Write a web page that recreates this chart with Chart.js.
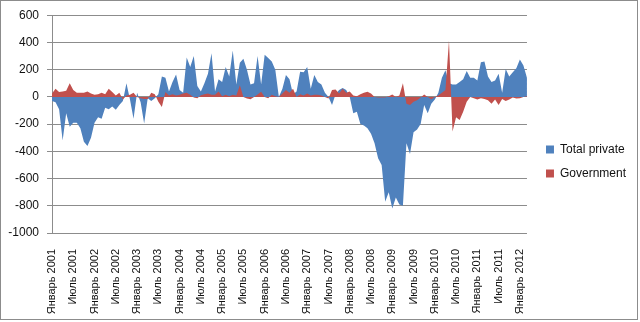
<!DOCTYPE html>
<html>
<head>
<meta charset="utf-8">
<script src="https://cdn.jsdelivr.net/npm/chart.js@4"></script>
<style>
  html, body { margin: 0; padding: 0; background: #fff; }
  #wrap { width: 640px; height: 322px; }
</style>
</head>
<body>
<div id="wrap"><canvas id="myChart"></canvas></div>
<script>
const monthNames = ['Январь', 'Февраль', 'Март', 'Апрель', 'Май', 'Июнь',
    'Июль', 'Август', 'Сентябрь', 'Октябрь', 'Ноябрь', 'Декабрь'];
const firstYear = 2001;

// monthly values, Jan 2001 .. Mar 2012
const totalPrivate = [
    -30, -40, -90, -320, -120, -220, -190, -190, -230, -330,
    -360, -300, -190, -150, -160, -80, -90, -70, -95, -60,
    -30, 100, -20, -160, 30, -40, -195, -10, -30, -10,
    20, 150, 140, 40, 110, 165, 50, 30, 290, 220,
    300, 80, 40, 100, 170, 320, 40, 130, 110, 220,
    150, 340, 90, 250, 280, 200, 90, 100, 300, 90,
    310, 285, 260, 200, 0, 60, 160, 130, 20, 40,
    185, 180, 220, 60, 160, 110, 90, 30, 0, -60,
    20, 50, 65, 50, 0, -120, -110, -200, -210, -230,
    -270, -340, -450, -500, -770, -700, -820, -740, -790, -800,
    -340, -420, -260, -240, -200, -60, -120, -50, -20, 30,
    140, 195, 100, 90, 90, 110, 130, 190, 140, 140,
    120, 255, 260, 150, 110, 120, 170, 30, 205, 150,
    180, 210, 275, 230, 140
];
const government = [
    25, 60, 35, 40, 45, 100, 50, 30, 30, 30,
    40, 25, 15, 20, 30, 20, 60, 35, 10, 30,
    -20, 10, 15, 30, 0, -10, -15, -15, 30, 20,
    -35, -75, 35, 10, 20, 10, 15, 25, 30, 15,
    -5, -10, 12, 20, 25, 15, 15, 40, 5, 15,
    5, 15, 10, 85, 0, -12, -17, 0, 17, 37,
    0, -10, 15, 5, 0, 25, 50, 30, 60, 0,
    20, 10, 25, 10, 15, 15, 10, 0, -12, 50,
    55, 25, 60, 30, 40, 10, 5, 20, 30, 37,
    25, 0, -5, -5, -5, 5, 17, 0, 10, 100,
    -50, -60, -35, -25, -5, 17, 0, -17, 0, 10,
    30, 50, 415, -255, -150, -170, -110, -35, 0, -10,
    -20, -10, -15, -25, -50, -20, -60, -15, -30, -20,
    -5, -12, -10, 0, 5
];

const categories = [];
for (let i = 0; i < totalPrivate.length; i++) {
    categories.push(monthNames[i % 12] + ' ' + (firstYear + Math.floor(i / 12)));
}

const font = { family: 'Liberation Sans', size: 12 };
const lineGrey = '#8c8c8c';

const chartBorder = {
    id: 'chartBorder',
    beforeDraw(chart) {
        const c = chart.ctx;
        c.save();
        c.fillStyle = '#fff';
        c.fillRect(0, 0, chart.width, chart.height);
        c.strokeStyle = lineGrey;
        c.lineWidth = 1;
        c.strokeRect(0.5, 0.5, 637, 319);
        c.restore();
    }
};

// empty axis used only to reserve space
const spacer = (side, size) => ({
    type: 'linear',
    position: side,
    grid: { display: false },
    border: { display: false },
    ticks: { display: false },
    afterFit: function (scale) {
        if (side === 'top') scale.height = size; else scale.width = size;
    }
});

const ctx = document.getElementById('myChart').getContext('2d');
const myChart = new Chart(ctx, {
    type: 'line',
    data: {
        labels: categories,
        datasets: [{
            label: 'Total private',
            data: totalPrivate,
            backgroundColor: '#4f81bd',
            borderColor: 'rgba(0,0,0,0)',
            borderWidth: 0,
            pointRadius: 0,
            fill: 'origin',
            order: 1
        }, {
            label: 'Government',
            data: government,
            backgroundColor: '#c0504d',
            borderColor: 'rgba(0,0,0,0)',
            borderWidth: 0,
            pointRadius: 0,
            fill: 'origin',
            order: 0
        }]
    },
    options: {
        responsive: true,
        maintainAspectRatio: false,
        animation: false,
        layout: { padding: { left: 0, top: 1, right: 4, bottom: 0 } },
        plugins: {
            tooltip: { enabled: false },
            legend: {
                position: 'right',
                labels: {
                    boxWidth: 8,
                    boxHeight: 8,
                    padding: 12,
                    font: font,
                    color: '#111',
                    sort: (a, b) => a.datasetIndex - b.datasetIndex
                }
            }
        },
        scales: {
            x: {
                grid: { display: false },
                border: { display: false },
                ticks: {
                    autoSkip: false,
                    maxRotation: 90,
                    minRotation: 90,
                    padding: 8,
                    font: { family: 'Liberation Sans', size: 11 },
                    color: '#111',
                    callback: function (value, index) {
                        return index % 6 === 0 ? this.getLabelForValue(value) : '';
                    }
                },
                afterFit: function (scale) { scale.height = 89; }
            },
            y: {
                min: -1000,
                max: 600,
                ticks: {
                    stepSize: 200,
                    padding: 8,
                    font: font,
                    color: '#111',
                    callback: (value) => String(value)
                },
                grid: { color: lineGrey, tickLength: 5 },
                border: { color: lineGrey },
                afterFit: function (scale) { scale.width = 52; }
            },
            gapRight: spacer('right', 7),
            gapTop: spacer('top', 14)
        }
    },
    plugins: [chartBorder]
});
</script>
</body>
</html>
